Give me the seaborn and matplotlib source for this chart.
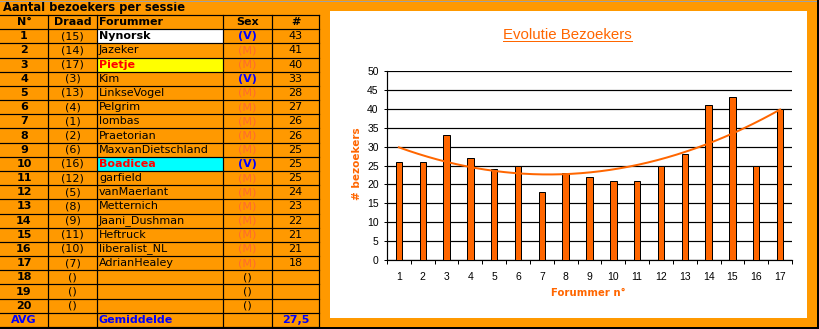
import numpy as np
import pandas as pd
import matplotlib
matplotlib.use("Agg")
import matplotlib.pyplot as plt
import seaborn as sns
from matplotlib.patches import Rectangle

# ---- table data -------------------------------------------------------
ranks = list(range(1, 21))
threads = [15, 14, 17, 3, 13, 4, 1, 2, 6, 16, 12, 5, 8, 9, 11, 10, 7, None, None, None]
names = ["Nynorsk", "Jazeker", "Pietje", "Kim", "LinkseVogel", "Pelgrim", "lombas",
         "Praetorian", "MaxvanDietschland", "Boadicea", "garfield", "vanMaerlant",
         "Metternich", "Jaani_Dushman", "Heftruck", "liberalist_NL", "AdrianHealey",
         "", "", ""]
sexes = ["V", "M", "M", "V", "M", "M", "M", "M", "M", "V", "M", "M", "M", "M", "M",
         "M", "M", "", "", ""]
visitors = [43, 41, 40, 33, 28, 27, 26, 26, 25, 25, 25, 24, 23, 22, 21, 21, 18,
            None, None, None]
headers = ["N°", "Draad", "Forummer", "Sex", "#"]

# highlighted name cells: rank -> (background, text colour)
highlights = {1: ("#FFFFFF", "#000000"), 3: ("#FFFF00", "#FF0000"),
              10: ("#00FFFF", "#FF0000")}

ORANGE_BG = "#FF9900"
ORANGE = "#FF6600"
BLUE = "#0000FF"

W, H = 820, 329
fig = plt.figure(figsize=(W / 100, H / 100), dpi=100, facecolor=ORANGE_BG)

bg = fig.add_axes([0, 0, 1, 1])
bg.set_xlim(0, W)
bg.set_ylim(H, 0)
bg.axis("off")
bg.set_zorder(0)

px = 0.72  # one pixel in points
tf = "DejaVu Sans"

# ---- table ------------------------------------------------------------
col_edges = [0, 48, 97, 223, 272, 319]
row_top = 15.0
row_h = 14.18
n_rows = 22  # header + 20 rows + average

def row_center(k):
    return row_top + (k + 0.5) * row_h

bg.text(3, 7.5, "Aantal bezoekers per sessie", fontsize=8.3, fontweight="bold",
        family=tf, ha="left", va="center", color="black")

# highlighted cells
for r, (fc, _) in highlights.items():
    y0 = row_top + r * row_h
    bg.add_patch(Rectangle((col_edges[2], y0), col_edges[3] - col_edges[2], row_h,
                           facecolor=fc, edgecolor="none", zorder=1))

# grid lines
for k in range(n_rows + 1):
    y = row_top + k * row_h
    bg.plot([0, col_edges[-1]], [y, y], color="black", lw=1.2 * px, zorder=2)
for x in col_edges[1:]:
    bg.plot([x, x], [row_top, row_top + n_rows * row_h], color="black", lw=1.2 * px,
            zorder=2)

centers = [24, 72.5, None, 247.5, 295.5]
name_x = 99

# header row
yc = row_center(0)
for i, h in enumerate(headers):
    if i == 2:
        bg.text(name_x, yc, h, fontsize=8, fontweight="bold", family=tf,
                ha="left", va="center", zorder=3)
    else:
        bg.text(centers[i], yc, h, fontsize=8, fontweight="bold", family=tf,
                ha="center", va="center", zorder=3)

# body rows
for k, (rk, th, nm, sx, v) in enumerate(zip(ranks, threads, names, sexes, visitors),
                                         start=1):
    yc = row_center(k)
    bg.text(centers[0], yc, str(rk), fontsize=8, fontweight="bold", family=tf,
            ha="center", va="center", zorder=3)
    bg.text(centers[1], yc, "(%s)" % ("" if th is None else th), fontsize=8,
            family=tf, ha="center", va="center", zorder=3)
    if nm:
        if rk in highlights:
            col = highlights[rk][1]
            bg.text(name_x, yc, nm, fontsize=8, fontweight="bold", family=tf,
                    ha="left", va="center", color=col, zorder=3)
        else:
            bg.text(name_x, yc, nm, fontsize=8, family=tf, ha="left",
                    va="center", zorder=3)
    if sx == "V":
        bg.text(centers[3], yc, "(V)", fontsize=8, fontweight="bold", family=tf,
                ha="center", va="center", color=BLUE, zorder=3)
    elif sx == "M":
        bg.text(centers[3], yc, "(M)", fontsize=8, family=tf, ha="center",
                va="center", color="#FF6A30", zorder=3)
    else:
        bg.text(centers[3], yc, "()", fontsize=8, family=tf, ha="center",
                va="center", zorder=3)
    if v is not None:
        bg.text(centers[4], yc, str(v), fontsize=8, family=tf, ha="center",
                va="center", zorder=3)

# average row
counts = [v for v in visitors if v is not None]
avg = np.mean(counts)
yc = row_center(21)
bg.text(centers[0], yc, "AVG", fontsize=8, fontweight="bold", family=tf,
        ha="center", va="center", color=BLUE, zorder=3)
bg.text(name_x, yc, "Gemiddelde", fontsize=8, fontweight="bold", family=tf,
        ha="left", va="center", color=BLUE, zorder=3)
bg.text(centers[4], yc, ("%.1f" % avg).replace(".", ","), fontsize=8,
        fontweight="bold", family=tf, ha="center", va="center", color=BLUE,
        zorder=3)

# ---- chart panel ------------------------------------------------------
bg.add_patch(Rectangle((330, 11), 807 - 330, 318 - 11, facecolor="white",
                       edgecolor="none", zorder=1))
# frame edges of the whole sheet
bg.plot([0, W], [0.5, 0.5], color="#A0A0A0", lw=1 * px, zorder=4)
bg.plot([818.5, 818.5], [0, H], color="black", lw=2 * px, zorder=4)
bg.plot([0, W], [328, 328], color="black", lw=2 * px, zorder=4)

chart = pd.DataFrame({"draad": threads[:17], "bezoekers": counts})
chart = chart.sort_values("draad").reset_index(drop=True)
order = list(range(1, 18))

cf = "Liberation Sans"
ax = fig.add_axes([387 / W, 1 - 260 / H, (792 - 387) / W, (260 - 71) / H])
ax.set_zorder(2)
ax.set_facecolor("white")
sns.barplot(data=chart, x="draad", y="bezoekers", order=order, color=ORANGE,
            saturation=1, width=0.27, edgecolor="black", linewidth=1.0 * px,
            ax=ax, zorder=3)

# second order polynomial trend line
coef = np.polyfit(chart["draad"], chart["bezoekers"], 2)
xs = np.linspace(1, 17, 200)
ax.plot(xs - 1, np.polyval(coef, xs), color=ORANGE, lw=2.0 * px, zorder=4)

ax.set_xlim(-0.5, 16.5)
ax.set_ylim(0, 50)
ax.set_yticks(range(0, 51, 5))
ax.grid(axis="y", color="black", lw=1.2 * px, zorder=0)
ax.set_axisbelow(True)
for s in ["top", "right"]:
    ax.spines[s].set_visible(False)
for s in ["left", "bottom"]:
    ax.spines[s].set_color("black")
    ax.spines[s].set_linewidth(1.2 * px)

ax.set_xticks(range(17))
ax.set_xticklabels([str(i) for i in order])
ax.set_xticks(np.arange(-0.5, 17, 1), minor=True)
ax.tick_params(axis="x", which="major", length=0, pad=8.5, labelsize=7.5,
               labelfontfamily=cf)
ax.tick_params(axis="x", which="minor", length=3, width=1.0 * px, color="black",
               direction="out")
ax.tick_params(axis="y", length=2.5, width=1.0 * px, color="black", pad=3.5,
               labelsize=7.5, labelfontfamily=cf)

ax.set_xlabel("")
ax.set_ylabel("")

fig.text(588 / W, 1 - 293 / H, "Forummer n°", fontsize=7.3, fontweight="bold",
         family=tf, color=ORANGE, ha="center", va="center")
fig.text(357 / W, 1 - 164 / H, "# bezoekers", fontsize=7.5, fontweight="bold",
         family=tf, color=ORANGE, ha="center", va="center", rotation=90)

title = fig.text(567.7 / W, 1 - 39.3 / H, "Evolutie Bezoekers", fontsize=10.8,
                 family=cf, color=ORANGE, ha="center", va="baseline")
fig.canvas.draw()
uy = 41.0
bb = title.get_window_extent()
bg.plot([bb.x0, bb.x1], [uy, uy], color=ORANGE, lw=1.0 * px, zorder=4)

fig.savefig("out.png", dpi=100, facecolor=ORANGE_BG)
